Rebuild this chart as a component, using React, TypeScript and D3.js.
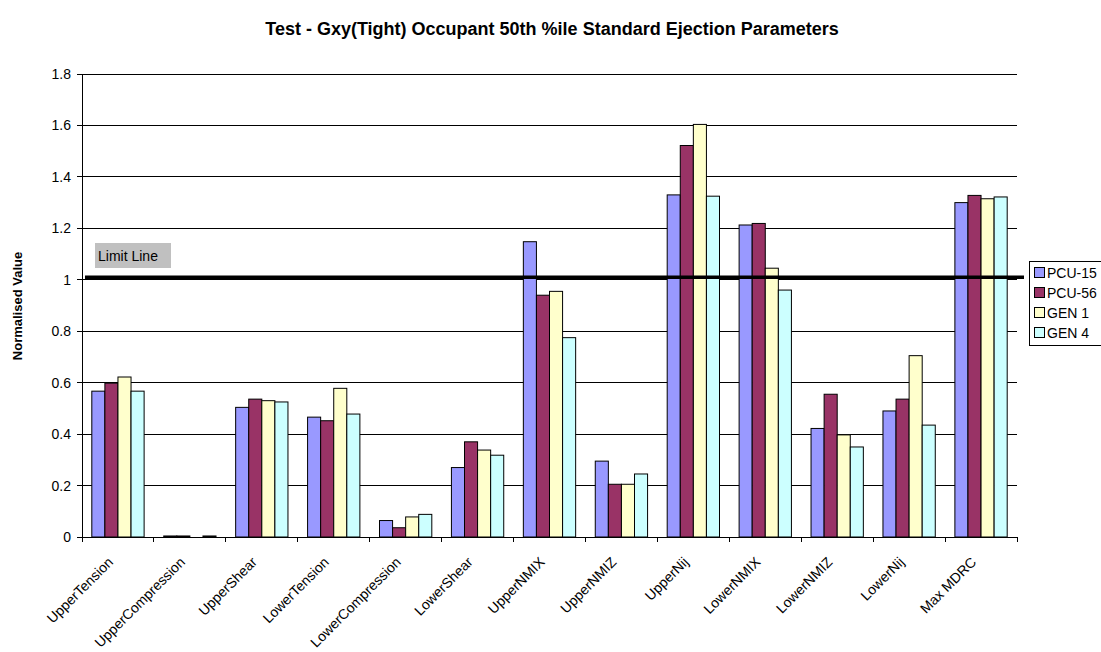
import { useEffect, useRef } from 'react'
import * as d3 from 'd3'

// Test parameters (x categories)
const categories = [
  'UpperTension', 'UpperCompression', 'UpperShear', 'LowerTension', 'LowerCompression',
  'LowerShear', 'UpperNMIX', 'UpperNMIZ', 'UpperNij', 'LowerNMIX', 'LowerNMIZ', 'LowerNij', 'Max MDRC',
]

const seriesNames = ['PCU-15', 'PCU-56', 'GEN 1', 'GEN 4']
const seriesColors = ['#9999FF', '#993366', '#FFFFCC', '#CCFFFF']

// Normalised values, one array per series, in category order
const pcu15 = [0.567, 0.004, 0.504, 0.466, 0.064, 0.27, 1.148, 0.295, 1.33, 1.213, 0.422, 0.49, 1.3]
const pcu56 = [0.598, 0.004, 0.536, 0.452, 0.036, 0.37, 0.94, 0.205, 1.522, 1.219, 0.555, 0.536, 1.328]
const gen1 = [0.622, 0, 0.53, 0.578, 0.078, 0.338, 0.955, 0.205, 1.604, 1.045, 0.397, 0.705, 1.315]
const gen4 = [0.567, 0.004, 0.525, 0.478, 0.088, 0.318, 0.775, 0.245, 1.325, 0.96, 0.35, 0.435, 1.322]

const yTicks = [0, 0.2, 0.4, 0.6, 0.8, 1, 1.2, 1.4, 1.6, 1.8]
const limitValue = 1.01

export default function App() {
  const svgRef = useRef<SVGSVGElement>(null)

  useEffect(() => {
    if (!svgRef.current) return
    const svg = d3.select(svgRef.current)
    svg.selectAll('*').remove()

    const font = 'Arial, "Liberation Sans", sans-serif'
    const left = 82
    const right = 1017
    const top = 74
    const bottom = 537

    const values = [pcu15, pcu56, gen1, gen4]

    const x0 = d3.scaleBand<string>().domain(categories).range([left, right]).padding(0)
    const x1 = d3.scaleBand<string>()
      .domain(seriesNames)
      .range([0, x0.bandwidth()])
      .paddingInner(0)
      .paddingOuter(0.75)
    const y = d3.scaleLinear().domain([0, 1.8]).range([bottom, top])

    svg.append('rect').attr('width', 1101).attr('height', 652).attr('fill', '#fff')

    // title
    svg.append('text')
      .attr('x', 552)
      .attr('y', 35)
      .attr('text-anchor', 'middle')
      .attr('font-family', font)
      .attr('font-weight', 'bold')
      .attr('font-size', 18)
      .text('Test - Gxy(Tight) Occupant 50th %ile Standard Ejection Parameters')

    // gridlines
    svg.selectAll('.grid')
      .data(yTicks.filter(t => t > 0))
      .enter()
      .append('line')
      .attr('x1', left)
      .attr('x2', right)
      .attr('y1', d => y(d))
      .attr('y2', d => y(d))
      .attr('stroke', '#000')
      .attr('stroke-width', 1)
      .attr('shape-rendering', 'crispEdges')

    // bars
    seriesNames.forEach((name, si) => {
      svg.selectAll('.bar-' + si)
        .data(values[si])
        .enter()
        .append('rect')
        .attr('x', (_, i) => (x0(categories[i]) ?? 0) + (x1(name) ?? 0))
        .attr('y', d => y(d))
        .attr('width', x1.bandwidth())
        .attr('height', d => bottom - y(d))
        .attr('fill', seriesColors[si])
        .attr('stroke', '#000')
        .attr('stroke-width', 1)
    })

    // y axis
    svg.append('line')
      .attr('x1', left).attr('x2', left).attr('y1', top).attr('y2', bottom)
      .attr('stroke', '#000').attr('shape-rendering', 'crispEdges')
    svg.selectAll('.ytick')
      .data(yTicks)
      .enter()
      .append('line')
      .attr('x1', left - 5).attr('x2', left)
      .attr('y1', d => y(d)).attr('y2', d => y(d))
      .attr('stroke', '#000').attr('shape-rendering', 'crispEdges')
    svg.selectAll('.ylab')
      .data(yTicks)
      .enter()
      .append('text')
      .attr('x', left - 11)
      .attr('y', d => y(d) + 5)
      .attr('text-anchor', 'end')
      .attr('font-family', font)
      .attr('font-size', 14)
      .text(d => String(Math.round(d * 10) / 10))

    svg.append('text')
      .attr('transform', `translate(22, 306) rotate(-90)`)
      .attr('text-anchor', 'middle')
      .attr('font-family', font)
      .attr('font-weight', 'bold')
      .attr('font-size', 13)
      .text('Normalised Value')

    // x axis
    svg.append('line')
      .attr('x1', left).attr('x2', right).attr('y1', bottom).attr('y2', bottom)
      .attr('stroke', '#000').attr('shape-rendering', 'crispEdges')
    const boundaries = categories.map(c => x0(c) ?? 0).concat([right])
    svg.selectAll('.xtick')
      .data(boundaries)
      .enter()
      .append('line')
      .attr('x1', d => d).attr('x2', d => d)
      .attr('y1', bottom).attr('y2', bottom + 5)
      .attr('stroke', '#000').attr('shape-rendering', 'crispEdges')
    svg.selectAll('.xlab')
      .data(categories)
      .enter()
      .append('text')
      .attr('transform', d => `translate(${(x0(d) ?? 0) + x0.bandwidth() / 2 - 4}, 563) rotate(-45)`)
      .attr('text-anchor', 'end')
      .attr('font-family', font)
      .attr('font-size', 14)
      .text(d => d)

    // limit line
    svg.append('line')
      .attr('x1', left + 3).attr('x2', 1024)
      .attr('y1', y(limitValue)).attr('y2', y(limitValue))
      .attr('stroke', '#000').attr('stroke-width', 3.5)
    svg.append('rect')
      .attr('x', 95).attr('y', 243).attr('width', 76).attr('height', 25)
      .attr('fill', '#C0C0C0')
    svg.append('text')
      .attr('x', 98).attr('y', 261)
      .attr('font-family', font)
      .attr('font-size', 14)
      .text('Limit Line')

    // legend
    const legend = svg.append('g')
    legend.append('rect')
      .attr('x', 1029.5).attr('y', 261.5).attr('width', 100).attr('height', 84)
      .attr('fill', '#fff').attr('stroke', '#000')
    seriesNames.forEach((name, i) => {
      const cy = 273 + i * 20
      legend.append('rect')
        .attr('x', 1034.5).attr('y', cy - 5.5).attr('width', 10).attr('height', 10)
        .attr('fill', seriesColors[i]).attr('stroke', '#000')
      legend.append('text')
        .attr('x', 1047).attr('y', cy + 5)
        .attr('font-family', font)
        .attr('font-size', 14)
        .text(name)
    })
  }, [])

  return (
    <div style={{ position: 'absolute', left: 0, top: 0 }}>
      <svg ref={svgRef} width={1101} height={652} style={{ display: 'block' }} />
    </div>
  )
}
